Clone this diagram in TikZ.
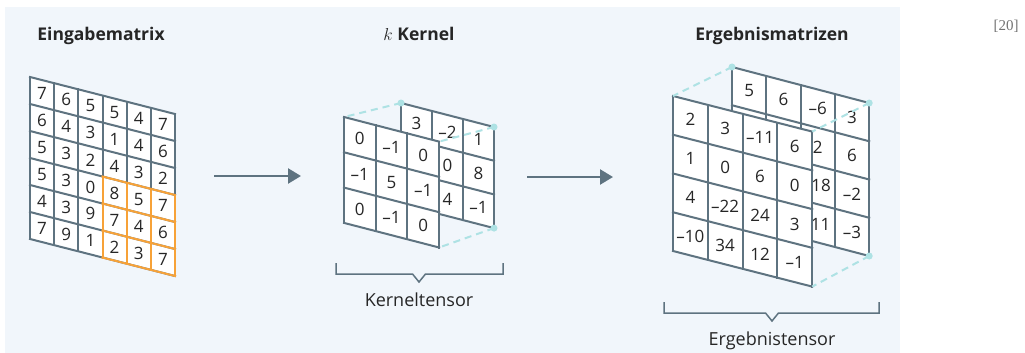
\documentclass[tikz,border=0pt]{standalone}
\usepackage{fontspec}
\setmainfont{Open Sans}
\newfontfamily\reffont{Liberation Serif}
\usetikzlibrary{arrows.meta}
\definecolor{panel}{HTML}{F1F6FB}
\definecolor{slate}{HTML}{5E7380}
\definecolor{hiorange}{HTML}{F7A238}
\definecolor{linkcyan}{HTML}{AEE2E4}
\definecolor{txt}{HTML}{262626}
\def\skipmark{x}
\tikzset{
  grid/.style={draw=slate, line width=2pt, line cap=rect},
  hilite/.style={draw=hiorange, line width=2pt, line cap=rect},
  cell/.style={inner sep=0pt, text=txt, font=\fontsize{17}{19}\selectfont},
  title/.style={anchor=base, text=txt, font=\fontsize{17.5}{20}\selectfont\bfseries},
  caption/.style={anchor=base, text=txt, font=\fontsize{18}{20}\selectfont},
  arr/.style={draw=slate, line width=2.5pt, -{Triangle[length=13pt,width=15pt]}},
  link/.style={draw=linkcyan, line width=2pt, dash pattern=on 7pt off 5pt},
  dot/.style={circle, fill=linkcyan, inner sep=0pt, minimum size=7pt},
  bracket/.style={draw=slate, line width=1.5pt},
}
\newcommand\drawsheet[8]{%
  \fill[white] (#1,#2) -- ++({#6*#3},{#6*#4}) -- ++(0,{#6*#5}) -- ++({-#6*#3},{-#6*#4}) -- cycle;
  \foreach \i in {0,...,#6}{
    \draw[grid] ({#1+\i*#3},{#2+\i*#4}) -- ++(0,{#6*#5});
    \draw[grid] (#1,{#2+\i*#5}) -- ++({#6*#3},{#6*#4});
  }
  \foreach \row [count=\r from 0] in {#7}{
    \foreach \v [count=\c from 0] in \row{
      \ifx\v\skipmark\else
        \node[cell] (#8-\r-\c) at ({#1+(\c+0.5)*#3},{#2+(\c+0.5)*#4+(\r+0.5)*#5}) {\v};
      \fi
    }
  }
}
\begin{document}
\begin{tikzpicture}[x=1pt,y=-1pt]
\useasboundingbox (0,0) rectangle (1025,353);
\fill[panel] (5,7) rectangle (900,353);

% titles
\node[title] (t1) at (101,41) {Eingabematrix};
\node[title] (t2) at (419,41) {$k$ Kernel};
\node[title] (t3) at (772,41) {Ergebnismatrizen};
\node[anchor=base, text=black!55, font=\reffont\fontsize{15}{17}\selectfont] (ref) at (1006,31) {[20]};

% input matrix
\drawsheet{30}{77}{24.17}{6.17}{27}{6}{{7,6,5,5,4,7},{6,4,3,1,4,6},{5,3,2,4,3,2},{5,3,0,8,5,7},{4,3,9,7,4,6},{7,9,1,2,3,7}}{in}
\foreach \i in {3,...,6}{
  \draw[hilite] ({30+\i*24.17},{77+\i*6.17+3*27}) -- ++(0,{3*27});
  \draw[hilite] ({30+3*24.17},{77+3*6.17+\i*27}) -- ++({3*24.17},{3*6.17});
}

% kernel tensor
\drawsheet{401}{103}{31}{8}{33.7}{3}{{3,–2,1},{x,0,8},{x,4,–1}}{kb}
\drawsheet{344}{117}{31.7}{8.2}{35.3}{3}{{0,–1,0},{–1,5,–1},{0,–1,0}}{kf}
\coordinate (kbtl) at (401,103);
\coordinate (kbtr) at (494,127);
\coordinate (kbbr) at (494,228.1);
\coordinate (kftl) at (344,117);
\coordinate (kftr) at (439.1,141.6);
\coordinate (kfbr) at (439.1,247.5);
\draw[link] (kbtl) -- (kftl);
\draw[link] (kbtr) -- (kftr);
\draw[link] (kbbr) -- (kfbr);
\node[dot] (kd1) at (kbtl) {};
\node[dot] (kd2) at (kbtr) {};
\node[dot] (kd3) at (kbbr) {};

% result tensor
\drawsheet{732}{67}{34.3}{9}{38.25}{4}{{5,6,–6,3},{x,x,2,6},{x,x,x,–2},{x,x,x,–3}}{rb}
\node[cell] (rb-2-2) at (821,185.5) {18};
\node[cell] (rb-3-2) at (820.5,224) {11};
\drawsheet{673}{96}{34.8}{8.9}{38.75}{4}{{2,3,–11,6},{1,0,6,0},{4,–22,24,3},{–10,34,12,–1}}{rf}
\coordinate (rbtl) at (732,67);
\coordinate (rbtr) at (869.2,103);
\coordinate (rbbr) at (869.2,256);
\coordinate (rftl) at (673,96);
\coordinate (rftr) at (812.2,131.6);
\coordinate (rfbr) at (812.2,286.6);
\draw[link] (rbtl) -- (rftl);
\draw[link] (rbtr) -- (rftr);
\draw[link] (rbbr) -- (rfbr);
\node[dot] (rd1) at (rbtl) {};
\node[dot] (rd2) at (rbtr) {};
\node[dot] (rd3) at (rbbr) {};

% arrows
\coordinate (a1s) at (214,176);
\coordinate (a1e) at (301,176);
\coordinate (a2s) at (527,177);
\coordinate (a2e) at (613,177);
\draw[arr] (a1s) -- (a1e);
\draw[arr] (a2s) -- (a2e);

% brackets
\draw[bracket] (336,263) -- (336,274) -- (412.5,274) -- (419,282) -- (425.5,274) -- (503,274) -- (503,263);
\node[caption] (kt) at (419,306) {Kerneltensor};
\draw[bracket] (664,302) -- (664,313) -- (765.5,313) -- (772,321) -- (778.5,313) -- (879,313) -- (879,302);
\node[caption] (et) at (772,345.5) {Ergebnistensor};
\end{tikzpicture}
\end{document}
